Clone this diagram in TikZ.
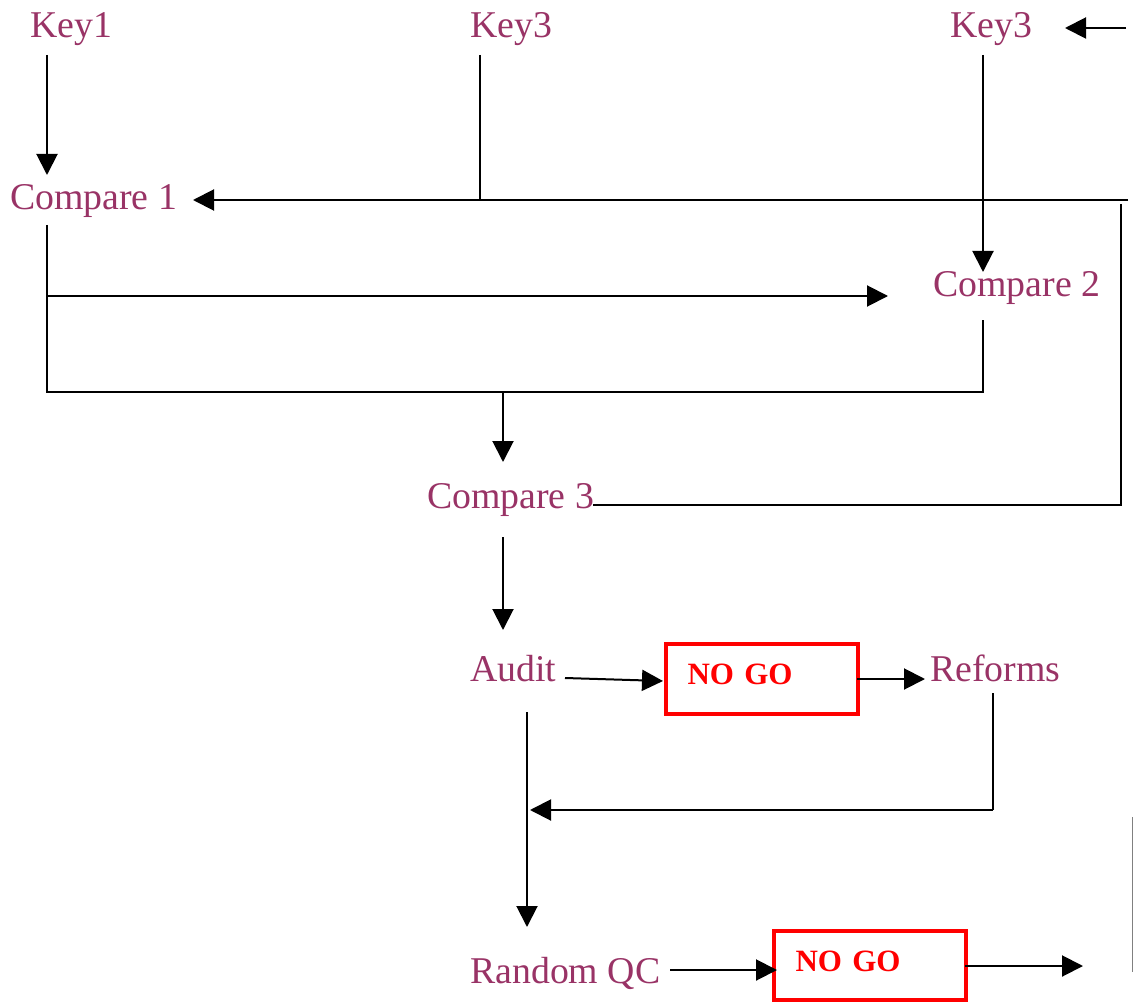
\documentclass[tikz,border=0pt]{standalone}
\usepackage{fontspec}
\setmainfont{Liberation Serif}
\usetikzlibrary{arrows.meta}
\definecolor{plum}{HTML}{993366}
\begin{document}
\begin{tikzpicture}[x=1pt,y=-1pt,
  lbl/.style={anchor=base west,inner sep=0pt,text=plum,font=\fontsize{37.8}{44}\selectfont},
  ln/.style={line width=2pt},
  arr/.style={line width=2pt,-{Triangle[length=21pt,width=21pt]}},
  nogo/.style={draw=red,line width=4pt,text=red,font=\bfseries\fontsize{31}{36}\selectfont,
    text width=148pt,align=left,inner xsep=22pt,inner ysep=0pt,minimum height=70pt,
    text height=21pt,text depth=10pt}]
\useasboundingbox (0,0) rectangle (1133,1003);
% text nodes
\node[lbl] (key1) at (30,38) {Key1};
\node[lbl] (key3a) at (470,38) {Key3};
\node[lbl] (key3b) at (950,38) {Key3};
\node[lbl] (c1) at (10,210) {Compare 1};
\node[lbl] (c2) at (933,297) {Compare 2};
\node[lbl] (c3) at (427,508) {Compare 3};
\node[lbl] (audit) at (470,681) {Audit};
\node[lbl] (reforms) at (930,681) {Reforms};
\node[lbl] (rqc) at (470,983) {Random QC};
\node[nogo] (ng1) at (761.5,678.5) {NO GO};
\node[nogo,minimum height=69pt] (ng2) at (869.5,965.5) {NO GO};
% coordinates
\coordinate (k1s) at (47,55);
\coordinate (k1e) at (47,175);
\coordinate (k3as) at (480,55);
\coordinate (k3ae) at (480,200);
\coordinate (k3bs) at (983,55);
\coordinate (k3be) at (983,272);
\coordinate (trs) at (1126,28);
\coordinate (tre) at (1065,28);
\coordinate (hr) at (1128,200);
\coordinate (c1in) at (193,200);
\coordinate (rvt) at (1121,204);
\coordinate (rvb) at (1121,505);
\coordinate (c3out) at (593,505);
\coordinate (c1s) at (47,225);
\coordinate (c1b) at (47,392);
\coordinate (br) at (47,296);
\coordinate (c2in) at (888,296);
\coordinate (c2s) at (983,320);
\coordinate (c2b) at (983,392);
\coordinate (mid) at (503,392);
\coordinate (c3in) at (503,462);
\coordinate (c3s) at (503,537);
\coordinate (auin) at (503,630);
\coordinate (auout) at (565,678);
\coordinate (ng1in) at (663,681);
\coordinate (ng1out) at (857,679);
\coordinate (refin) at (925,679);
\coordinate (refs) at (993,693);
\coordinate (refb) at (993,810);
\coordinate (rete) at (530,810);
\coordinate (aus) at (527,712);
\coordinate (rqcin) at (527,927);
\coordinate (rqcout) at (670,970);
\coordinate (ng2in) at (777,970);
\coordinate (ng2out) at (965,966);
\coordinate (ng2e) at (1083,966);
\coordinate (gvt) at (1132,817);
\coordinate (gvb) at (1132,972);
% connectors
\draw[arr] (k1s) -- (k1e);
\draw[ln] (k3as) -- (k3ae);
\draw[arr] (k3bs) -- (k3be);
\draw[arr] (trs) -- (tre);
\draw[arr] (hr) -- (c1in);
\draw[ln] (rvt) -- (rvb) -- (c3out);
\draw[ln] (c1s) -- (c1b) -| (c2s);
\draw[arr] (br) -- (c2in);
\draw[arr] (mid) -- (c3in);
\draw[arr] (c3s) -- (auin);
\draw[arr] (auout) -- (ng1in);
\draw[arr] (ng1out) -- (refin);
\draw[ln] (refs) -- (refb);
\draw[arr] (refb) -- (rete);
\draw[arr] (aus) -- (rqcin);
\draw[arr] (rqcout) -- (ng2in);
\draw[arr] (ng2out) -- (ng2e);
\draw[line width=1pt,gray] (gvt) -- (gvb);
\end{tikzpicture}
\end{document}
